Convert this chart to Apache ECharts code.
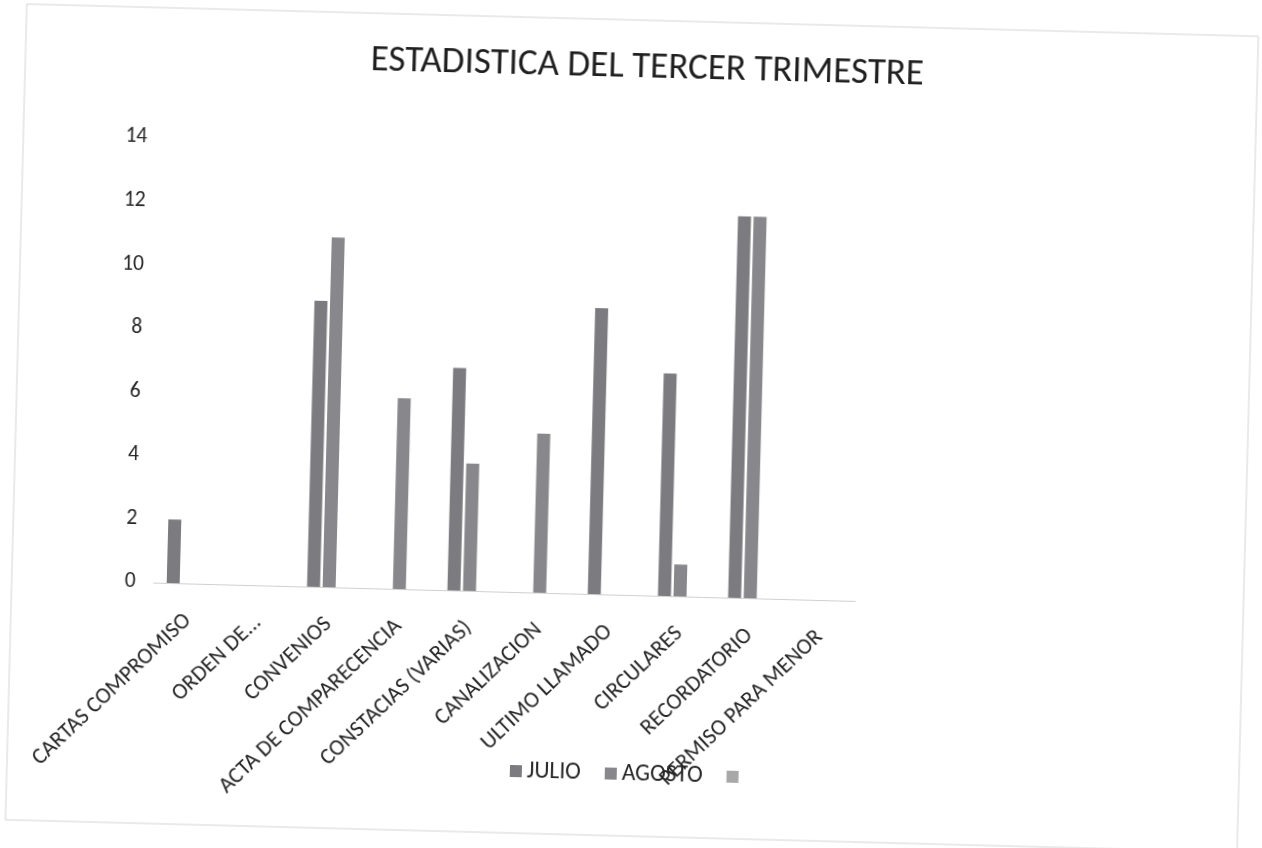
<!DOCTYPE html>
<html>
<head>
<meta charset="utf-8">
<script src="https://cdn.jsdelivr.net/npm/echarts@6/dist/echarts.min.js"></script>
<style>
  html, body { margin: 0; padding: 0; background: #ffffff; overflow: hidden; }
  #chart { width: 1262px; height: 848px; transform: rotate(1.5deg); transform-origin: 631px 424px; }
</style>
</head>
<body>
<div id="chart"></div>
<script>
const titleText = 'ESTADISTICA DEL TERCER TRIMESTRE';
const categories = ['CARTAS COMPROMISO', 'ORDEN DE...', 'CONVENIOS', 'ACTA DE COMPARECENCIA', 'CONSTACIAS (VARIAS)', 'CANALIZACION', 'ULTIMO LLAMADO', 'CIRCULARES', 'RECORDATORIO', 'PERMISO PARA MENOR'];
const seriesNames = ['JULIO', 'AGOSTO', ' '];
const julio  = [2, null, 9, null, 7, null, 9, 7, 12, null];
const agosto = [null, null, 11, 6, 4, 5, null, 1, 12, null];
const tercero = [null, null, null, null, null, null, null, null, null, null];
const yTicks = { min: 0, max: 14, interval: 2 };
const colors = ['#7b7b80', '#88888c', '#a8a8a8'];

const font = 'Carlito, Lato, "Liberation Sans", sans-serif';
const chart = echarts.init(document.getElementById('chart'), null, { renderer: 'canvas' });
const seriesData = [julio, agosto, tercero];

chart.setOption({
  backgroundColor: '#ffffff',
  animation: false,
  color: colors,
  title: {
    text: titleText,
    left: 633, top: 44, textAlign: 'center',
    textStyle: { fontFamily: font, fontSize: 37, fontWeight: 'normal', color: '#1f1f1f' }
  },
  graphic: [{
    type: 'rect', shape: { x: 16, y: 20, width: 1232, height: 816 },
    style: { fill: 'none', stroke: '#d4d4d4', lineWidth: 1 }, z: -1
  }],
  legend: {
    data: seriesNames,
    left: 514, top: 757,
    itemWidth: 12, itemHeight: 12, itemGap: 24,
    icon: 'rect',
    textStyle: { fontFamily: font, fontSize: 23.5, color: '#262626', padding: [0, 0, 0, 0] }
  },
  grid: { left: 158, right: 402, top: 150, bottom: 253, containLabel: false },
  xAxis: {
    type: 'category', data: categories,
    axisLine: { show: true, lineStyle: { color: '#d0d0d0', width: 1 } },
    axisTick: { show: false },
    axisLabel: { interval: 0, rotate: 45, margin: 34, fontFamily: font, fontSize: 22.5, color: '#262626' }
  },
  yAxis: {
    type: 'value', min: yTicks.min, max: yTicks.max, interval: yTicks.interval,
    axisLine: { show: false }, axisTick: { show: false },
    splitLine: { show: false },
    axisLabel: { margin: 18, fontFamily: font, fontSize: 21.5, color: '#262626' }
  },
  series: seriesNames.map((n, i) => ({
    name: n, type: 'bar', data: seriesData[i],
    barWidth: 13, barGap: '20%',
    itemStyle: { color: colors[i] }
  }))
});
</script>
</body>
</html>
